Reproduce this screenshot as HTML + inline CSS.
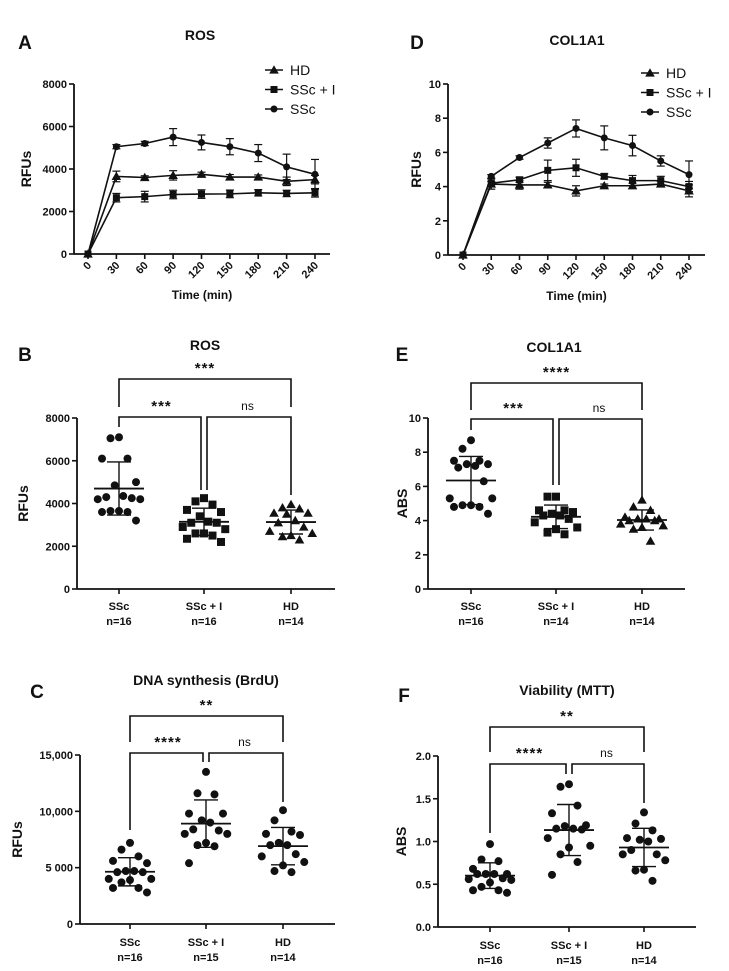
<!DOCTYPE html>
<html><head><meta charset="utf-8"><style>
html,body{margin:0;padding:0;background:#fff}
svg{display:block;font-family:"Liberation Sans",Arial,sans-serif}
text{font-weight:bold;fill:#111}
</style></head><body>
<svg id="fig" width="729" height="971" viewBox="0 0 729 971"></svg>
<script>
// ---- Panel A (ROS time course)
const timeCats = [0,30,60,90,120,150,180,210,240];
const aSSc = [0,5050,5200,5500,5250,5050,4750,4100,3750];
const aSScErr = [0,100,100,400,350,380,400,600,700];
const aSScI = [0,2650,2700,2800,2820,2830,2880,2850,2880];
const aSScIErr = [0,200,250,200,200,180,150,150,200];
const aHD = [0,3650,3600,3700,3750,3620,3620,3420,3500];
const aHDErr = [0,250,80,220,100,120,100,200,200];
const aYTicks = [0,2000,4000,6000,8000];
// ---- Panel D (COL1A1 time course)
const dSSc = [0,4.6,5.7,6.55,7.4,6.85,6.4,5.5,4.7];
const dSScErr = [0,0.1,0.1,0.3,0.5,0.7,0.6,0.3,0.8];
const dSScI = [0,4.2,4.4,4.95,5.1,4.6,4.35,4.35,4.0];
const dSScIErr = [0,0.1,0.15,0.6,0.5,0.15,0.3,0.25,0.3];
const dHD = [0,4.15,4.1,4.1,3.75,4.05,4.05,4.15,3.75];
const dHDErr = [0,0.3,0.25,0.15,0.3,0.1,0.15,0.15,0.35];
const dYTicks = [0,2,4,6,8,10];
// ---- Group labels
const groupCats = ["SSc","SSc + I","HD"];
// ---- Panel B (ROS)
const bN = ["n=16","n=16","n=14"];
const bSSc = [7050,7100,6100,6100,4850,5000,4350,4300,4250,4200,4200,3650,3650,3600,3600,3200];
const bSScI = [4250,4100,3950,3700,3600,3400,3150,3100,3100,2900,2800,2600,2600,2500,2350,2200];
const bHD = [3950,3800,3750,3550,3550,3500,3200,3100,2900,2700,2600,2500,2450,2300];
const bYTicks = [0,2000,4000,6000,8000];
const bYLabels = ["0","2000","4000","6000","8000"];
const bSig = ["***","***","ns"];
// ---- Panel C (BrdU)
const cN = ["n=16","n=15","n=14"];
const cSSc = [7200,6600,6000,5400,5600,4700,4700,4600,4600,4000,4000,3900,3700,3200,3200,2800];
const cSScI = [13500,11600,11500,9800,9800,9200,9000,8400,8300,8000,8000,7200,7000,6900,5400];
const cHD = [10100,9200,8200,8000,7900,7200,7000,7000,6200,6000,5500,4700,4600,5200];
const cYTicks = [0,5000,10000,15000];
const cYLabels = ["0","5 000","10,000","15,000"];
const cSig = ["**","****","ns"];
// ---- Panel E (COL1A1)
const eN = ["n=16","n=14","n=14"];
const eSSc = [8.7,8.2,7.3,7.5,7.5,7.3,7.2,7.1,6.3,5.3,5.3,4.8,4.9,4.9,4.8,4.4];
const eSScI = [5.4,5.4,4.6,4.6,4.5,4.4,4.3,4.3,4.1,3.9,3.6,3.5,3.3,3.2];
const eHD = [5.2,4.8,4.6,4.2,4.1,4.1,4.1,4.0,4.0,3.8,3.7,3.6,3.5,2.8];
const eYTicks = [0,2,4,6,8,10];
const eYLabels = ["0","2","4","6","8","10"];
const eSig = ["****","***","ns"];
// ---- Panel F (MTT)
const fN = ["n=16","n=15","n=14"];
const fSSc = [0.97,0.79,0.77,0.68,0.62,0.62,0.62,0.62,0.57,0.56,0.52,0.47,0.43,0.43,0.40,0.55];
const fSScI = [1.67,1.64,1.42,1.33,1.19,1.18,1.15,1.15,1.14,1.04,0.95,0.93,0.85,0.76,0.61];
const fHD = [1.34,1.21,1.13,1.04,1.03,1.02,1.0,0.9,0.85,0.85,0.78,0.67,0.66,0.54];
const fYTicks = [0,0.5,1.0,1.5,2.0];
const fYLabels = ["0.0","0.5","1.0","1.5","2.0"];
const fSig = ["**","****","ns"];

const NS="http://www.w3.org/2000/svg";
const svg=document.getElementById('fig');
function mk(tag,attrs,parent,txt){const e=document.createElementNS(NS,tag);for(const k in attrs)e.setAttribute(k,attrs[k]);if(txt!==undefined)e.textContent=txt;(parent||svg).appendChild(e);return e;}
function line(p,x1,y1,x2,y2,w){return mk('line',{x1,y1,x2,y2,stroke:'#111','stroke-width':w||1.6},p);}
function txt(p,x,y,s,size,anchor,extra){const t=mk('text',Object.assign({x,y,'font-size':size,'text-anchor':anchor||'middle'},extra||{}),p,s);return t;}
function marker(p,type,x,y,s){
  let m;
  if(type==='circle') m=mk('circle',{cx:x,cy:y,r:s/2,fill:'#111'},p);
  else if(type==='square') m=mk('rect',{x:x-s/2,y:y-s/2,width:s,height:s,fill:'#111'},p);
  else m=mk('polygon',{points:`${x},${y-s*0.6} ${x-s*0.6},${y+s*0.45} ${x+s*0.6},${y+s*0.45}`,fill:'#111'},p);
  return m;
}

function lineChart(o){
  const g=mk('g',{},svg);
  
  
  const sx=v=>o.x0+(v-timeCats[0])/(timeCats[timeCats.length-1]-timeCats[0])*(o.x1-o.x0);
  const sy=v=>o.y0-v/o.ymax*(o.y0-o.yTop);
  // axes
  const ax=mk('g',{},g);
  
  
  line(ax,o.ax,o.yTop,o.ax,o.y0,1.8);
  o.yTicks.forEach(v=>{line(ax,o.ax-5,sy(v),o.ax,sy(v),1.6);const t=txt(ax,o.ax-7,sy(v)+4,String(v),11,'end');});
  const xa=mk('g',{},g);
  
  
  line(xa,o.ax,o.y0,o.axEnd,o.y0,1.8);
  timeCats.forEach(v=>{const x=sx(v);line(xa,x,o.y0,x,o.y0+5,1.6);const t=txt(xa,x+4,o.y0+12,String(v),11,'end',{transform:`rotate(-45 ${x+4} ${o.y0+12})`});});
  const xt=txt(g,(o.ax+o.axEnd)/2,o.y0+45,'Time (min)',12);
  
  const yt=txt(g,0,0,'RFUs',14,'middle',{transform:`translate(${o.ylx} ${(o.y0+o.yTop)/2}) rotate(-90)`});
  
  const tt=txt(g,o.tx,o.ty,o.title,14);
  const lt=txt(g,o.lx,o.ly,o.letter,19);
  // series
  o.series.forEach(s=>{
    const sg=mk('g',{},g);
    
    
    const pts=s.vals.map((v,i)=>sx(timeCats[i])+','+sy(v)).join(' ');
    mk('polyline',{points:pts,fill:'none',stroke:'#111','stroke-width':1.6},sg);
    s.vals.forEach((v,i)=>{
      const x=sx(timeCats[i]);const e=s.err[i];
      if(e>0){const eb=mk('g',{},sg);
        line(eb,x,sy(v-e),x,sy(v+e),1.2);line(eb,x-4,sy(v+e),x+4,sy(v+e),1.2);line(eb,x-4,sy(v-e),x+4,sy(v-e),1.2);}
      const m=marker(sg,s.type,x,sy(v),s.type==='square'?7:(s.type==='circle'?7:8));
      
      
    });
  });
  // legend
  const lg=mk('g',{},g);
  
  
  o.legend.forEach((L,i)=>{
    const y=o.legY+i*19.5;
    const le=mk('g',{},lg);
    
    
    line(le,o.legX,y,o.legX+18,y,1.6);
    marker(le,L.type,o.legX+9,y,L.type==='triangle'?8:7);
    mk('text',{x:o.legX+25,y:y+5,'font-size':14,'font-weight':'normal',style:'font-weight:normal'},le,L.label);
  });
}

const legendDef=[{type:'triangle',label:'HD'},{type:'square',label:'SSc + I'},{type:'circle',label:'SSc'}];
lineChart({name:'panel-a-ros-timecourse',letter:'A',lx:25,ly:49,title:'ROS',tx:200,ty:40,ax:74,axEnd:330,x0:88,x1:315,y0:254,yTop:84,ymax:8000,yTicks:aYTicks,ylx:31,legX:265,legY:70,legend:legendDef,
  series:[{key:'ssc',type:'circle',vals:aSSc,err:aSScErr},{key:'ssc-i',type:'square',vals:aSScI,err:aSScIErr},{key:'hd',type:'triangle',vals:aHD,err:aHDErr}]});
lineChart({name:'panel-d-col1a1-timecourse',letter:'D',lx:417,ly:49,title:'COL1A1',tx:577,ty:45,ax:448,axEnd:705,x0:463,x1:689,y0:255,yTop:84,ymax:10,yTicks:dYTicks,ylx:421,legX:641,legY:73,legend:legendDef,
  series:[{key:'ssc',type:'circle',vals:dSSc,err:dSScErr},{key:'ssc-i',type:'square',vals:dSScI,err:dSScIErr},{key:'hd',type:'triangle',vals:dHD,err:dHDErr}]});

const jit=[0,-1,1,-2,2,-0.5,0.5,-1.5,1.5,-2.5,2.5,0,-1,1,-2,2];
function scatterChart(o){
  const g=mk('g',{},svg);
  
  
  const sy=v=>o.y0-v/o.ymax*(o.y0-o.yTop);
  const ax=mk('g',{},g);
  
  
  line(ax,o.ax,o.yTop,o.ax,o.y0,1.8);
  o.yTicks.forEach((v,i)=>{line(ax,o.ax-5,sy(v),o.ax,sy(v),1.6);const t=txt(ax,o.ax-7,sy(v)+4,o.yLabels[i],11,'end');});
  const xa=mk('g',{},g);
  
  
  line(xa,o.ax,o.y0,o.axEnd,o.y0,1.8);
  groupCats.forEach((c,i)=>{const x=o.cats[i];line(xa,x,o.y0,x,o.y0+5,1.6);
    const t=txt(xa,x,o.y0+o.lab1,c,11);
    const t2=txt(xa,x,o.y0+o.lab1+15,o.nLab[i],11);});
  const yt=txt(g,0,0,o.ylab,14,'middle',{transform:`translate(${o.ylx} ${(o.y0+o.yTop)/2+(o.yoff||0)}) rotate(-90)`});
  
  const tt=txt(g,o.tx,o.ty,o.title,14);
  const lt=txt(g,o.lx,o.ly,o.letter,19);
  o.groups.forEach((arr,gi)=>{
    const sg=mk('g',{},g);
    
    
    const cx=o.cats[gi];
    const sorted=arr.slice().sort((a,b)=>b-a);
    sorted.forEach((v,i)=>{
      const m=marker(sg,o.types[gi],cx+jit[i%jit.length]*8.5,sy(v),o.types[gi]==='triangle'?8:8);
      
      
    });
    const mean=arr.reduce((a,b)=>a+b,0)/arr.length;
    const sd=Math.sqrt(arr.reduce((a,b)=>a+(b-mean)*(b-mean),0)/(arr.length-1));
    const st=mk('g',{},sg);
    
    
    line(st,cx-25,sy(mean),cx+25,sy(mean),1.8);
    line(st,cx,sy(mean-sd),cx,sy(mean+sd),1.4);
    line(st,cx-12,sy(mean+sd),cx+12,sy(mean+sd),1.4);
    line(st,cx-12,sy(mean-sd),cx+12,sy(mean-sd),1.4);
  });
  // brackets
  const b=o.br, c=o.cats;
  const bg=mk('g',{},g);
  
  
  mk('polyline',{points:`${c[0]},${b.topDrop} ${c[0]},${b.top} ${c[2]},${b.top} ${c[2]},${b.topDrop}`,fill:'none',stroke:'#111','stroke-width':1.6},bg);
  mk('polyline',{points:`${c[0]},${b.lDrop} ${c[0]},${b.low} ${c[1]-3},${b.low} ${c[1]-3},${b.midDrop}`,fill:'none',stroke:'#111','stroke-width':1.6},bg);
  mk('polyline',{points:`${c[1]+3},${b.midDrop} ${c[1]+3},${b.low} ${c[2]},${b.low} ${c[2]},${b.rDrop}`,fill:'none',stroke:'#111','stroke-width':1.6},bg);
  const s0=txt(bg,(c[0]+c[2])/2,b.top-6,o.sig[0],15,'middle',{'letter-spacing':'1'});
  const s1=txt(bg,(c[0]+c[1])/2,b.low-6,o.sig[1],15,'middle',{'letter-spacing':'1'});
  const s2=mk('text',{x:(c[1]+c[2])/2,y:b.low-7,'font-size':12,'text-anchor':'middle',style:'font-weight:normal'},bg,o.sig[2]);
  
  
}
scatterChart({name:'panel-b-ros',letter:'B',lx:25,ly:361,title:'ROS',tx:205,ty:350,ax:77,axEnd:335,y0:589,yTop:418,ymax:8000,yTicks:bYTicks,yLabels:bYLabels,cats:[119,204,291],lab1:21,nLab:bN,ylab:'RFUs',ylx:28,
  groups:[bSSc,bSScI,bHD],types:['circle','square','triangle'],sig:bSig,br:{top:379,topDrop:407,low:417,lDrop:427,midDrop:490,rDrop:495}});
scatterChart({name:'panel-c-brdu',letter:'C',lx:37,ly:698,title:'DNA synthesis (BrdU)',tx:206,ty:685,ax:80,axEnd:335,y0:924,yTop:755,ymax:15000,yTicks:cYTicks,yLabels:cYLabels,cats:[130,206,283],lab1:22,nLab:cN,ylab:'RFUs',ylx:22,
  groups:[cSSc,cSScI,cHD],types:['circle','circle','circle'],sig:cSig,br:{top:716,topDrop:742,low:753,lDrop:830,midDrop:762,rDrop:802}});
scatterChart({name:'panel-e-col1a1',letter:'E',lx:402,ly:361,title:'COL1A1',tx:554,ty:352,ax:428,axEnd:685,y0:589,yTop:418,ymax:10,yTicks:eYTicks,yLabels:eYLabels,cats:[471,556,642],lab1:21,nLab:eN,ylab:'ABS',ylx:407,
  groups:[eSSc,eSScI,eHD],types:['circle','square','triangle'],sig:eSig,br:{top:383,topDrop:410,low:419,lDrop:430,midDrop:485,rDrop:497}});
scatterChart({name:'panel-f-mtt',letter:'F',lx:404,ly:702,title:'Viability (MTT)',tx:567,ty:695,ax:438,axEnd:696,y0:927,yTop:756,ymax:2.0,yTicks:fYTicks,yLabels:fYLabels,cats:[490,569,644],lab1:22,nLab:fN,ylab:'ABS',ylx:406,yoff:0,
  groups:[fSSc,fSScI,fHD],types:['circle','circle','circle'],sig:fSig,br:{top:727,topDrop:752,low:764,lDrop:833,midDrop:774,rDrop:803}});
</script>
</body></html>
